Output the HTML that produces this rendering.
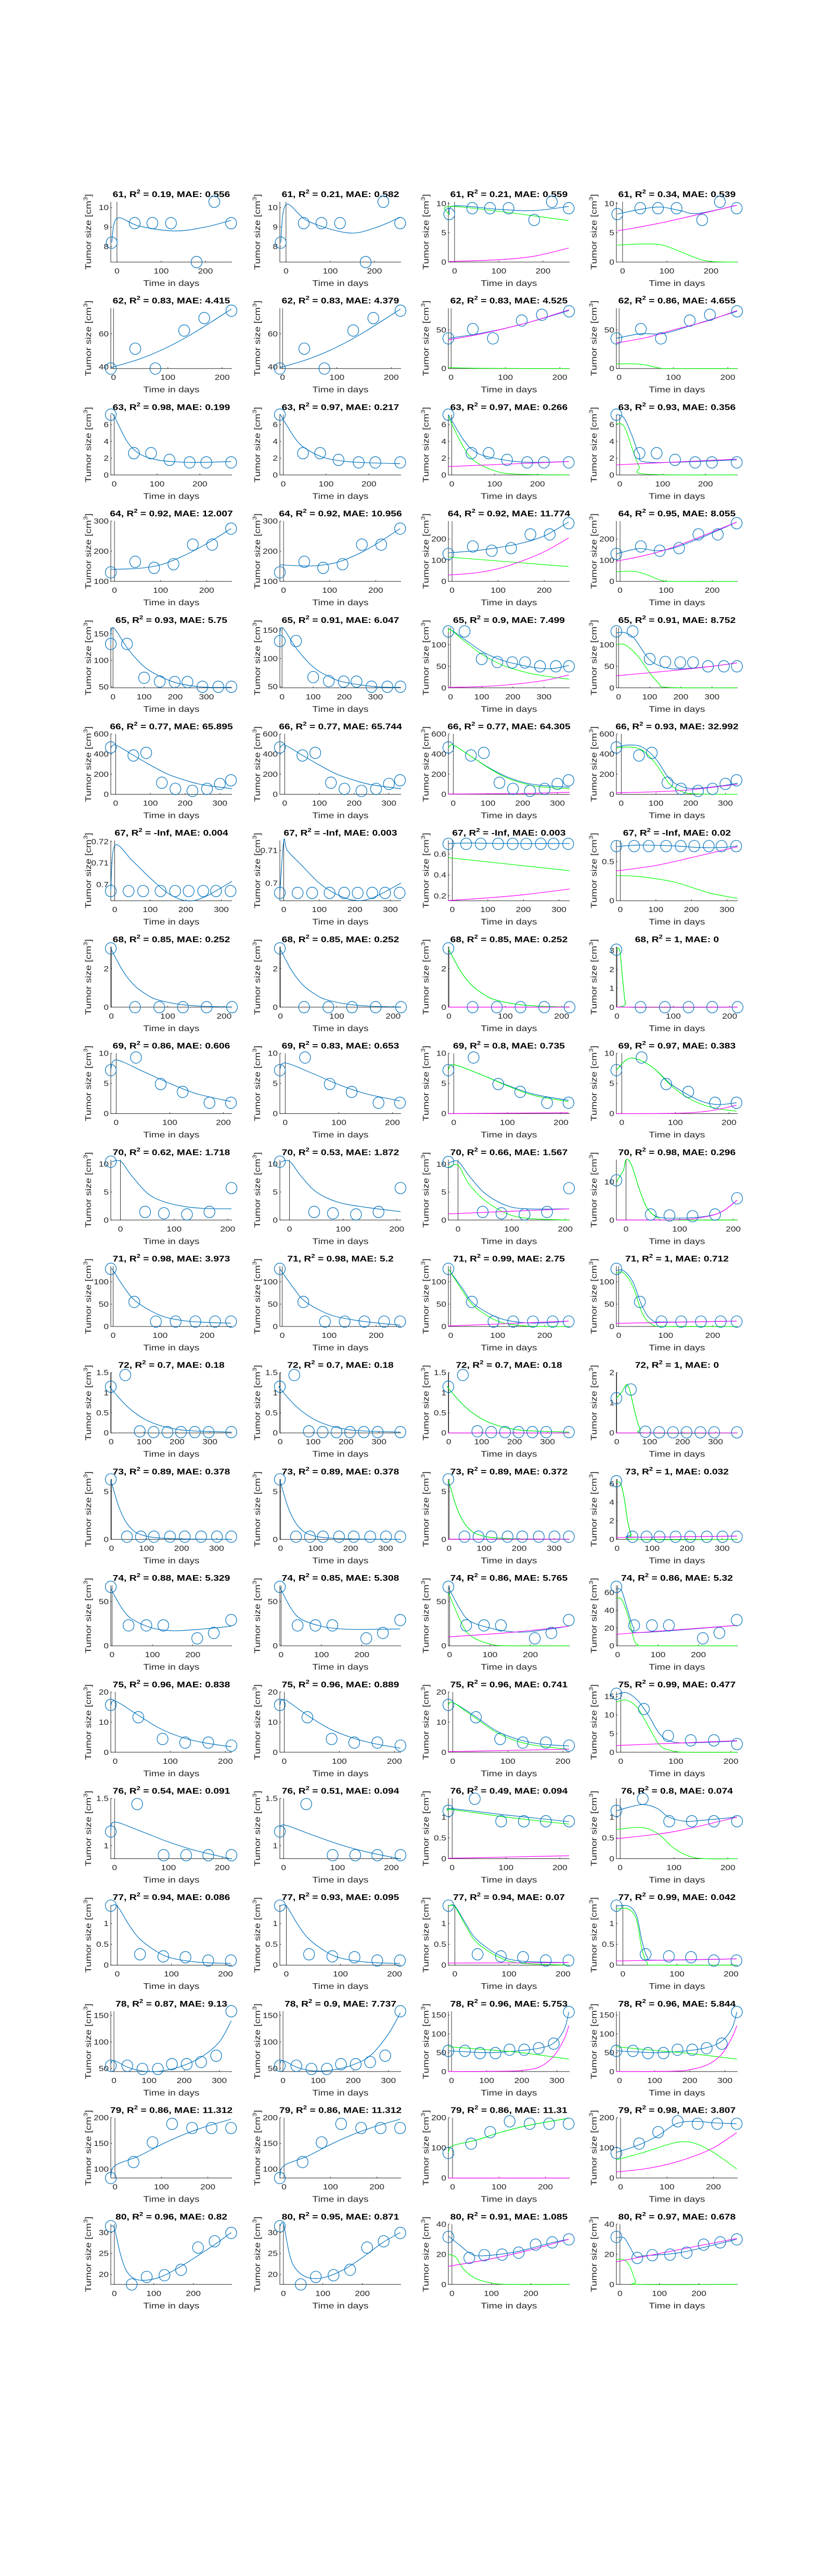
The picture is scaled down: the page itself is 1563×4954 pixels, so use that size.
<!DOCTYPE html>
<html><head><meta charset="utf-8"><title>Tumor size fits</title>
<style>
html,body{margin:0;padding:0;background:#fff;}
svg{display:block;font-family:"Liberation Sans",Arial,sans-serif;}
</style></head>
<body>
<svg id="fig" width="1563" height="4954" viewBox="0 0 1563 4954" xmlns="http://www.w3.org/2000/svg">
<rect x="0" y="0" width="1563" height="4954" fill="#fff"/>
</svg>
<script>
// ---------- data ----------
const patientIds = [61,62,63,64,65,66,67,68,69,70,71,72,73,74,75,76,77,78,79,80];
const rowTimes = [
 [-12,40,80,122,180,220,258],
 [-5,40,77,130,167,217],
 [-8,46,86,129,176,215,273],
 [-8,45,86,128,170,212,253],
 [-7,45,100,150,198,239,287,338,380],
 [-14,51,88,133,172,221,263,300,332],
 [-11,39,80,129,170,208,249,285,326],
 [-1,42,85,127,169,214],
 [-10,37,83,124,174,214],
 [-18,46,81,124,166,207],
 [-5,45,91,133,175,217,251],
 [-1,43,87,129,171,212,254,296,365],
 [-2,44,84,121,167,209,256,301,342],
 [-3,41,85,127,211,252,295],
 [-8,42,86,127,169,211],
 [-7,42,91,133,174,217],
 [-12,42,85,126,168,210],
 [-9,38,81,125,165,207,248,291,334],
 [-9,40,81,123,166,208,250],
 [-9,44,82,127,169,212,254,296]
];
const rowSizes = [
 [8.2,9.2,9.2,9.2,7.2,10.3,9.2],
 [39,51,39,62,69.5,74],
 [7.2,2.6,2.6,1.8,1.5,1.5,1.5],
 [130,165,145,157,222,222,275],
 [131,131,67,60,59,59,50,50,50],
 [466,386,412,115,54,34,54,103,139],
 [0.697,0.697,0.697,0.697,0.697,0.697,0.697,0.697,0.697],
 [3.05,0,0,0,0,0],
 [7.2,9.3,4.9,3.6,1.8,1.8],
 [10.4,1.45,1.2,1.0,1.45,5.7],
 [129,55,11,11,11,11,11],
 [1.15,1.44,0.04,0.02,0.02,0.02,0.02,0.02,0.02],
 [6.27,0.28,0.28,0.28,0.28,0.28,0.28,0.28,0.28],
 [66.5,23,23,23,8.4,14.5,29],
 [15.7,11.6,4.4,3.2,3.2,2.2],
 [1.15,1.44,0.90,0.90,0.90,0.90],
 [1.43,0.26,0.21,0.19,0.11,0.11],
 [55,55,49,49,58,58,62,74,158],
 [83,114,152,188,180,180,180],
 [31.5,17.6,19.4,19.8,21.1,26.4,27.9,29.9]
];
const rowXDomain = [[-14,260],[-5,218],[-8,275],[-8,255],[-7,382],[-14,335],[-11,330],[-1,214],[-10,216],[-18,208],[-5,253],[-1,367],[-2,344],[-3,297],[-8,212],[-7,218],[-12,212],[-9,336],[-9,252],[-9,298]];
const xTicksShort = [0,100,200];
const xTicksLong = [0,100,200,300];
const rowXTicks = [xTicksShort,xTicksShort,xTicksShort,xTicksShort,xTicksLong,xTicksLong,xTicksLong,xTicksShort,xTicksShort,xTicksShort,xTicksShort,xTicksLong,xTicksLong,xTicksShort,xTicksShort,xTicksShort,xTicksShort,xTicksLong,xTicksShort,xTicksShort];
const panelR2 = [
 ["0.19","0.21","0.21","0.34"],["0.83","0.83","0.83","0.86"],["0.98","0.97","0.97","0.93"],["0.92","0.92","0.92","0.95"],
 ["0.93","0.91","0.9","0.91"],["0.77","0.77","0.77","0.93"],["-Inf","-Inf","-Inf","-Inf"],["0.85","0.85","0.85","1"],
 ["0.86","0.83","0.8","0.97"],["0.62","0.53","0.66","0.98"],["0.98","0.98","0.99","1"],["0.7","0.7","0.7","1"],
 ["0.89","0.89","0.89","1"],["0.88","0.85","0.86","0.86"],["0.96","0.96","0.96","0.99"],["0.54","0.51","0.49","0.8"],
 ["0.94","0.93","0.94","0.99"],["0.87","0.9","0.96","0.96"],["0.86","0.86","0.86","0.98"],["0.96","0.95","0.91","0.97"]
];
const panelMAE = [
 ["0.556","0.582","0.559","0.539"],["4.415","4.379","4.525","4.655"],["0.199","0.217","0.266","0.356"],["12.007","10.956","11.774","8.055"],
 ["5.75","6.047","7.499","8.752"],["65.895","65.744","64.305","32.992"],["0.004","0.003","0.003","0.02"],["0.252","0.252","0.252","0"],
 ["0.606","0.653","0.735","0.383"],["1.718","1.872","1.567","0.296"],["3.973","5.2","2.75","0.712"],["0.18","0.18","0.18","0"],
 ["0.378","0.378","0.372","0.032"],["5.329","5.308","5.765","5.32"],["0.838","0.889","0.741","0.477"],["0.091","0.094","0.094","0.074"],
 ["0.086","0.095","0.07","0.042"],["9.13","7.737","5.753","5.844"],["11.312","11.312","11.31","3.807"],["0.82","0.871","1.085","0.678"]
];
const panelYDomain = [
 [[7.2,10.3],[7.2,10.3],[0,10.3],[0,10.3]],
 [[39,75.5],[39,75.5],[0,78],[0,78]],
 [[0,7.2],[0,7.2],[0,7.2],[0,7.2]],
 [[100,300],[100,300],[0,285],[0,285]],
 [[48,162],[48,155],[0,140],[0,140]],
 [[0,600],[0,600],[0,600],[0,600]],
 [[0.6925,0.7205],[0.6946,0.7131],[0.153,0.73],[0,0.77]],
 [[0,3.13],[0,3.13],[0,3.13],[0,3.2]],
 [[0,10],[0,10],[0,10],[0,10]],
 [[0,10.75],[0,10.75],[0,10.8],[0,15.8]],
 [[0,135],[0,135],[0,135],[0,135]],
 [[0,1.5],[0,1.5],[0,1.5],[0,2]],
 [[0,6.3],[0,6.3],[0,6.3],[0,6.5]],
 [[0,68],[0,68],[0,68],[0,68]],
 [[0,20],[0,20],[0,20],[0,16.2]],
 [[0.863,1.5],[0.863,1.5],[0,1.45],[0,1.45]],
 [[0,1.45],[0,1.45],[0,1.45],[0,1.45]],
 [[44,158],[44,158],[0,160],[0,160]],
 [[83,200],[83,200],[0,200],[0,200]],
 [[17.6,32],[17.6,32],[0,40],[0,40]]
];
const panelYTicks = [
 [[8,9,10],[8,9,10],[0,5,10],[0,5,10]],
 [[40,60],[40,60],[0,50],[0,50]],
 [[0,2,4,6],[0,2,4,6],[0,2,4,6],[0,2,4,6]],
 [[100,200,300],[100,200,300],[0,100,200],[0,100,200]],
 [[50,100,150],[50,100,150],[0,50,100],[0,50,100]],
 [[0,200,400,600],[0,200,400,600],[0,200,400,600],[0,200,400,600]],
 [[0.7,0.71,0.72],[0.7,0.71],[0.2,0.4,0.6],[0,0.5]],
 [[0,2],[0,2],[0,2],[0,1,2,3]],
 [[0,5,10],[0,5,10],[0,5,10],[0,5,10]],
 [[0,5,10],[0,5,10],[0,5,10],[0,10]],
 [[0,50,100],[0,50,100],[0,50,100],[0,50,100]],
 [[0,0.5,1,1.5],[0,0.5,1,1.5],[0,0.5,1,1.5],[0,1,2]],
 [[0,5],[0,5],[0,5],[0,2,4,6]],
 [[0,50],[0,50],[0,50],[0,20,40,60]],
 [[0,10,20],[0,10,20],[0,10,20],[0,5,10,15]],
 [[1,1.5],[1,1.5],[0,0.5,1],[0,0.5,1]],
 [[0,0.5,1],[0,0.5,1],[0,0.5,1],[0,0.5,1]],
 [[50,100,150],[50,100,150],[0,50,100,150],[0,50,100,150]],
 [[100,150,200],[100,150,200],[0,100,200],[0,100,200]],
 [[20,25,30],[20,25,30],[0,20,40],[0,20,40]]
];
// fitted total curves (t,y pairs)
const blueCurves = [
 [[-12,8.2,0,9.45,50,9.05,130,8.8,200,9.0,258,9.35],[-12,8.2,0,10.15,50,9.3,140,8.7,200,8.95,258,9.5],[-12,8.1,0,9.6,100,9.0,180,8.8,258,9.5],[-12,8.2,40,9.0,85,9.4,130,8.8,170,8.3,258,9.7]],
 [[-5,39.5,50,45,100,52,150,61,217,75],[-5,39.5,50,45,100,52,150,61,217,75],[-5,39,50,45,100,52,150,61,217,75],[-5,39,40,45,80,45,130,55,217,74]],
 [[-8,7.3,0,7.0,30,4.0,60,2.5,100,1.8,150,1.55,200,1.5,273,1.6],[-8,7.3,30,4.2,60,2.9,100,2.0,150,1.6,200,1.45,273,1.35],[-8,7.2,30,4.0,60,2.6,100,2.0,150,1.6,200,1.5,273,1.6],[-8,7.2,10,6.8,30,4.5,45,2.5,70,1.5,273,1.8]],
 [[-8,140,50,143,100,155,150,185,200,225,253,275],[-8,155,30,152,70,152,120,165,180,205,253,275],[-8,135,50,145,100,160,150,180,200,215,253,280],[-8,130,40,155,80,145,120,160,180,210,253,280]],
 [[-7,130,0,162,50,120,100,88,150,70,200,58,250,52,300,49,380,49],[-7,130,0,155,50,115,100,85,150,68,200,58,300,50,380,49],[-7,130,0,135,50,110,100,85,150,68,200,57,280,46,330,45,380,52],[-7,128,20,128,50,115,100,65,150,47,200,44,300,50,380,58]],
 [[-14,460,0,490,50,390,100,290,150,200,200,140,250,95,335,55],[-14,460,0,490,50,390,100,290,150,200,200,140,250,95,335,55],[-14,460,0,490,50,380,100,270,150,180,200,120,250,90,335,70],[-14,470,20,490,60,470,100,350,140,150,180,70,220,60,280,80,335,110]],
 [[-11,0.697,0,0.718,50,0.711,100,0.703,150,0.696,200,0.6925,250,0.694,330,0.7015],[-11,0.697,0,0.713,10,0.710,50,0.7055,100,0.700,150,0.6965,200,0.6947,250,0.6955,330,0.700],[-11,0.70,50,0.705,150,0.70,250,0.70,330,0.70],[-11,0.69,50,0.71,150,0.70,220,0.68,290,0.68,330,0.70]],
 [[-1,3.05,20,1.9,40,1.15,60,0.7,80,0.4,120,0.15,160,0.05,214,0.01],[-1,3.05,20,1.9,40,1.15,60,0.7,80,0.4,120,0.15,160,0.05,214,0.01],[-1,3.05,20,1.9,40,1.15,60,0.7,80,0.4,120,0.15,160,0.05,214,0.01],[-1,3.05,5,3.0,10,1.5,15,0.2,20,0,214,0]],
 [[-10,7.3,0,8.9,50,7.0,100,5.0,150,3.3,214,2.0],[-10,7.3,0,8.4,50,6.7,100,4.8,150,3.3,214,2.1],[-10,7.2,0,8.1,50,6.5,100,4.7,150,3.2,214,2.2],[-10,7.2,10,9.0,30,9.0,60,7.5,90,5.0,120,3.3,150,2.0,180,1.5,214,1.8]],
 [[-18,10.3,0,10.5,20,8.0,50,4.8,80,3.3,120,2.4,160,2.05,207,2.0],[-18,10.3,0,10.5,20,8.0,50,5.0,90,3.2,140,2.3,207,1.5],[-18,10.2,0,10.5,20,8.0,50,4.8,90,2.6,130,2.0,207,2.0],[-18,10.0,-5,13.0,0,15.8,10,14.5,25,8,40,3,60,0.8,100,0.5,150,1.0,180,2.3,207,5.2]],
 [[-5,129,0,125,25,85,50,55,100,25,150,13,200,9,251,7.5],[-5,129,25,85,50,55,100,27,150,15,200,8,251,3],[-5,129,25,85,50,50,100,20,150,9,200,8,251,12],[-5,125,10,125,30,100,50,45,70,15,100,10,251,12]],
 [[-1,1.15,0,1.1,50,0.65,100,0.35,150,0.18,200,0.09,250,0.05,365,0.02],[-1,1.15,0,1.1,50,0.65,100,0.35,150,0.18,200,0.09,250,0.05,365,0.02],[-1,1.15,0,1.1,50,0.65,100,0.35,150,0.18,200,0.09,250,0.05,365,0.02],[-1,1.15,15,1.35,30,1.6,40,1.4,55,0.7,70,0.15,90,0,365,0]],
 [[-2,6.2,20,3.5,40,1.9,60,1.0,80,0.55,120,0.2,200,0.05,342,0],[-2,6.2,20,3.5,40,1.9,60,1.0,80,0.55,120,0.2,200,0.05,342,0],[-2,6.2,20,3.5,40,1.9,60,1.0,80,0.55,120,0.2,200,0.05,342,0.02],[-2,6.2,10,6.0,20,4.5,30,2.0,40,0.6,50,0.25,342,0.35]],
 [[-3,66,0,62,25,42,50,30,100,20,150,17,200,18,250,20,295,22],[-3,66,25,42,50,30,100,22,150,19,200,18.5,295,19],[-3,66,25,42,50,28,100,20,150,16,200,16,295,22],[-3,64,10,62,25,40,40,20,60,15,295,23]],
 [[-8,15.5,0,17,40,12.5,80,8,120,5,160,3.2,211,1.8],[-8,15.5,0,17.5,40,12.5,80,8,120,5,160,3,211,1.3],[-8,15.5,0,16.5,40,12,80,7,120,4.2,160,2.7,211,2.1],[-8,15.5,10,16,30,14,50,10,70,5,90,3,120,2.5,211,3.0]],
 [[-7,1.15,0,1.25,50,1.15,100,1.04,150,0.95,217,0.86],[-7,1.15,0,1.22,50,1.12,100,1.02,150,0.94,217,0.86],[-7,1.15,0,1.2,100,1.05,217,0.89],[-7,1.15,20,1.25,45,1.3,70,1.2,90,1.0,120,0.9,150,0.92,217,1.0]],
 [[-12,1.42,0,1.42,20,1.0,40,0.65,70,0.35,100,0.17,150,0.07,210,0.04],[-12,1.42,0,1.42,20,1.0,40,0.65,70,0.35,100,0.17,150,0.07,210,0.04],[-12,1.42,0,1.42,20,1.0,40,0.62,80,0.25,120,0.1,210,0.06],[-12,1.42,10,1.42,25,1.2,35,0.6,45,0.2,60,0.12,210,0.15]],
 [[-9,58,0,65,40,52,80,45,120,44,160,48,200,56,250,72,300,100,334,140],[-9,58,0,65,40,52,90,45,150,48,200,57,250,75,300,115,334,155],[-9,55,50,52,100,50,150,52,200,56,250,62,290,75,320,110,334,158],[-9,55,50,52,100,50,150,52,200,56,250,64,290,80,320,115,334,158]],
 [[-9,85,0,107,50,125,100,148,150,168,200,184,250,197],[-9,85,0,107,50,125,100,148,150,168,200,184,250,197],[-9,85,0,107,50,125,100,150,150,170,200,185,250,198],[-9,85,40,110,80,140,120,180,160,188,200,183,250,180]],
 [[-9,31.5,0,31,15,25,30,21,50,19,80,18.6,120,19.5,170,22,220,25,260,27.5,296,30],[-9,31.5,0,32,15,25,30,21.5,60,19.3,100,19.2,150,21,200,24,250,27.5,296,30],[-9,32,20,26,50,20,80,19,150,21,200,24,250,27.5,296,30],[-9,31,10,31,25,25,40,18.5,60,19,150,21,250,27,296,30]]
];
// sub-population curves (columns 3 and 4)
const greenCurves = [
 [[-12,8.1,0,9.5,258,7.1],[-12,2.9,50,3.1,90,2.9,130,1.8,170,0.6,200,0.1,258,0]],
 [[-5,1.5,50,0.3,217,0],[-5,6,30,6,50,4.5,75,0.5,100,0,217,0]],
 [[-8,7.0,20,4.0,50,1.8,100,0.5,150,0.1,273,0],[-8,6.1,10,5.8,30,3.0,45,1.0,60,0.1,273,0]],
 [[-8,115,253,70],[-8,45,30,48,60,30,90,5,120,0,253,0]],
 [[-7,130,0,135,50,105,100,78,150,58,200,44,280,30,380,20],[-7,100,20,100,60,75,100,35,130,10,160,1,380,0]],
 [[-14,460,0,490,50,380,100,265,150,170,200,110,250,75,335,55],[-14,460,20,470,60,440,100,300,140,100,180,20,220,3,335,0]],
 [[-11,0.565,330,0.44],[-11,0.32,50,0.31,150,0.24,250,0.1,330,0.03]],
 [[-1,3.05,20,1.9,40,1.15,60,0.7,80,0.4,120,0.15,160,0.05,214,0.01],[-1,3.05,5,3.0,10,1.5,15,0.2,20,0,214,0]],
 [[-10,7.2,0,8.1,50,6.5,100,4.6,150,3.0,214,2.0],[-10,7.2,10,9.0,30,9.0,60,7.5,90,4.8,120,2.8,150,1.5,180,0.8,214,0.4]],
 [[-18,9.4,0,9.8,20,6.5,50,3.5,90,1.2,130,0.3,207,0],[-18,10.0,-5,13.0,0,15.8,10,14.5,25,8,40,3,60,0.5,80,0,207,0]],
 [[-5,129,25,80,50,45,100,12,150,2,200,0,251,0],[-5,120,10,120,30,90,50,30,70,5,100,0,251,0]],
 [[-1,1.15,0,1.1,50,0.65,100,0.35,150,0.18,200,0.09,250,0.05,365,0.02],[-1,1.15,15,1.35,30,1.6,40,1.4,55,0.7,70,0.15,90,0,365,0]],
 [[-2,6.2,20,3.5,40,1.9,60,1.0,80,0.55,120,0.2,200,0.05,342,0],[-2,6.2,10,6.0,20,4.5,30,2.0,40,0.5,50,0,342,0]],
 [[-3,60,25,30,50,12,100,2,150,0,295,0],[-3,54,10,52,25,35,40,8,50,1,70,0,295,0]],
 [[-8,15.5,0,16.5,40,11.5,80,6.5,120,3.5,160,2.0,211,1.0],[-8,13.5,10,14,30,12,50,7,70,2,90,0.5,120,0,211,0]],
 [[-7,1.15,0,1.18,100,1.0,217,0.83],[-7,0.7,40,0.75,70,0.6,100,0.25,130,0.05,160,0,217,0]],
 [[-12,1.42,0,1.4,20,0.95,40,0.55,80,0.2,120,0.05,210,0],[-12,1.35,10,1.35,25,1.1,35,0.4,45,0.05,60,0,210,0]],
 [[-9,66,100,58,200,50,334,33],[-9,66,100,56,200,48,334,33]],
 [[-9,85,0,107,50,125,100,150,150,170,200,185,250,198],[-9,60,50,85,100,110,130,120,160,115,200,85,250,30]],
 [[-9,20,10,18,30,10,60,4,100,1,150,0,296,0],[-9,16.5,10,16.5,25,12,40,2,50,0,296,0]]
];
const magentaCurves = [
 [[-12,0.1,100,0.4,180,1.0,258,2.4],[-12,5.3,100,6.9,258,9.7]],
 [[-5,37,50,44,100,52,150,61,217,76],[-5,33,50,40,100,50,160,61,217,75]],
 [[-8,1.0,273,1.6],[-8,1.2,273,1.9]],
 [[-8,30,50,40,100,60,150,95,200,140,253,205],[-8,95,100,150,253,280]],
 [[-7,1,100,3,200,8,300,17,380,30],[-7,28,100,35,200,42,300,50,380,58]],
 [[-14,2,200,8,335,20],[-14,15,100,25,200,45,335,100]],
 [[-11,0.155,100,0.18,200,0.21,330,0.265],[-11,0.38,100,0.45,200,0.55,330,0.69]],
 [[-1,0,214,0],[-1,0,214,0]],
 [[-10,0,214,0.15],[-10,0,100,0.05,150,0.3,180,0.7,214,1.4]],
 [[-18,1.1,207,2.0],[-18,0,100,0.1,150,0.9,180,2.3,207,5.2]],
 [[-5,1,251,12],[-5,7,251,12]],
 [[-1,0,365,0],[-1,0,365,0]],
 [[-2,0.02,342,0.02],[-2,0.2,342,0.35]],
 [[-3,10,150,15,295,22],[-3,13,295,23]],
 [[-8,0.2,211,1.0],[-8,1.8,211,3.1]],
 [[-7,0.01,217,0.07],[-7,0.48,100,0.65,217,1.0]],
 [[-12,0.05,210,0.06],[-12,0.1,210,0.15]],
 [[-9,0,150,1,200,3,250,12,290,40,320,85,334,122],[-9,0,150,1,200,5,250,18,290,45,320,90,334,122]],
 [[-9,0,250,0],[-9,20,50,30,100,45,150,68,200,100,250,150]],
 [[-9,12,100,17,200,23,296,30],[-9,15,296,30.5]]
];

// ---------- drawing ----------
const NS = "http://www.w3.org/2000/svg";
const svg = document.getElementById("fig");
const ROW_TOP0 = 388, ROW_PITCH = 204.7, AX_H = 116, AX_W = 233;
const COL_L = [213, 538, 862, 1185];
const STRETCH = 1.2;
const BLUE = "#0072BD", GREEN = "#00FF00", MAGENTA = "#FF00FF", AXC = "#262626";

function mk(tag, attrs, parent) {
  const e = document.createElementNS(NS, tag);
  for (const k in attrs) e.setAttribute(k, attrs[k]);
  (parent || svg).appendChild(e);
  return e;
}
function stretch(t, k) {
  const w = t.getComputedTextLength();
  if (w > 0) { t.setAttribute("textLength", (w * k).toFixed(1)); t.setAttribute("lengthAdjust", "spacingAndGlyphs"); }
}
function fmt(v) { return String(+v.toFixed(4)); }
function curvePath(arr, fx, fy) {
  const p = [];
  for (let i = 0; i < arr.length; i += 2) p.push([fx(arr[i]), fy(arr[i + 1])]);
  let d = "M" + p[0][0].toFixed(2) + "," + p[0][1].toFixed(2);
  for (let i = 0; i < p.length - 1; i++) {
    const p0 = p[i - 1] || p[i], p1 = p[i], p2 = p[i + 1], p3 = p[i + 2] || p2;
    const c1x = p1[0] + (p2[0] - p0[0]) / 6, c1y = p1[1] + (p2[1] - p0[1]) / 6;
    const c2x = p2[0] - (p3[0] - p1[0]) / 6, c2y = p2[1] - (p3[1] - p1[1]) / 6;
    d += " C" + c1x.toFixed(2) + "," + c1y.toFixed(2) + " " + c2x.toFixed(2) + "," + c2y.toFixed(2) + " " + p2[0].toFixed(2) + "," + p2[1].toFixed(2);
  }
  return d;
}

for (let r = 0; r < patientIds.length; r++) {
  const top = ROW_TOP0 + r * ROW_PITCH, bot = top + AX_H;
  const xd = rowXDomain[r];
  for (let c = 0; c < 4; c++) {
    const L = COL_L[c], R = L + AX_W;
    const yd = panelYDomain[r][c];
    const fx = v => L + (v - xd[0]) / (xd[1] - xd[0]) * AX_W;
    const fy = v => bot - (v - yd[0]) / (yd[1] - yd[0]) * AX_H;
    const g = mk("g", {});
    
    

    // title
    const tt = mk("text", {x: (L + R) / 2, y: top - 9, "text-anchor": "middle", "font-size": 16, "font-weight": "bold", fill: "#000"}, g);
    
    
    tt.appendChild(document.createTextNode(patientIds[r] + ", R"));
    const sup = mk("tspan", {dy: -7, "font-size": 11}, tt); sup.textContent = "2";
    const rest = mk("tspan", {dy: 7}, tt); rest.textContent = " = " + panelR2[r][c] + ", MAE: " + panelMAE[r][c];
    stretch(tt, STRETCH);

    // axes lines
    const ax = mk("path", {d: "M" + L + "," + top + " L" + L + "," + bot + " L" + R + "," + bot, fill: "none", stroke: AXC, "stroke-width": 1}, g);
    
    
    // vertical line at t=0
    const zl = mk("line", {x1: fx(0), x2: fx(0), y1: top, y2: bot, stroke: "#000", "stroke-width": 0.8}, g);
    
    

    // x ticks
    for (const t of rowXTicks[r]) {
      const x = fx(t);
      mk("line", {x1: x, x2: x, y1: bot, y2: bot - 2.5, stroke: AXC, "stroke-width": 1}, g);
      const lb = mk("text", {x: x, y: bot + 22, "text-anchor": "middle", "font-size": 15, fill: AXC}, g);
      
      
      lb.textContent = t; stretch(lb, 1.15);
    }
    // y ticks
    for (const t of panelYTicks[r][c]) {
      const y = fy(t);
      mk("line", {x1: L, x2: L + 2.5, y1: y, y2: y, stroke: AXC, "stroke-width": 1}, g);
      const lb = mk("text", {x: L - 4, y: y + 5, "text-anchor": "end", "font-size": 15, fill: AXC}, g);
      
      
      lb.textContent = fmt(t); stretch(lb, 1.15);
    }
    // axis labels
    const xl = mk("text", {x: (L + R) / 2, y: bot + 46, "text-anchor": "middle", "font-size": 16, fill: AXC}, g);
    
    
    xl.textContent = "Time in days"; stretch(xl, 1.2);
    const cx = L - 38, cy = (top + bot) / 2;
    const yl = mk("text", {x: cx, y: cy, "text-anchor": "middle", "font-size": 16, fill: AXC, transform: "rotate(-90 " + cx + " " + cy + ")"}, g);
    
    
    yl.appendChild(document.createTextNode("Tumor size [cm"));
    const s3 = mk("tspan", {dy: -7, "font-size": 11}, yl); s3.textContent = "3";
    const s4 = mk("tspan", {dy: 7}, yl); s4.textContent = "]";
    stretch(yl, 1.22);

    // curves
    const bl = mk("path", {d: curvePath(blueCurves[r][c], fx, fy), fill: "none", stroke: BLUE, "stroke-width": 1.2}, g);
    
    
    if (c >= 2) {
      const gr = mk("path", {d: curvePath(greenCurves[r][c - 2], fx, fy), fill: "none", stroke: GREEN, "stroke-width": 1.2}, g);
      
      
      const mg = mk("path", {d: curvePath(magentaCurves[r][c - 2], fx, fy), fill: "none", stroke: MAGENTA, "stroke-width": 1.2}, g);
      
      
    }
    // data points
    const ts = rowTimes[r], ys = rowSizes[r];
    for (let i = 0; i < ts.length; i++) {
      const m = mk("ellipse", {cx: fx(ts[i]), cy: fy(ys[i]), rx: 10.5, ry: 11, fill: "none", stroke: BLUE, "stroke-width": 1.2}, g);
      
      
    }
  }
}
</script>
</body></html>
